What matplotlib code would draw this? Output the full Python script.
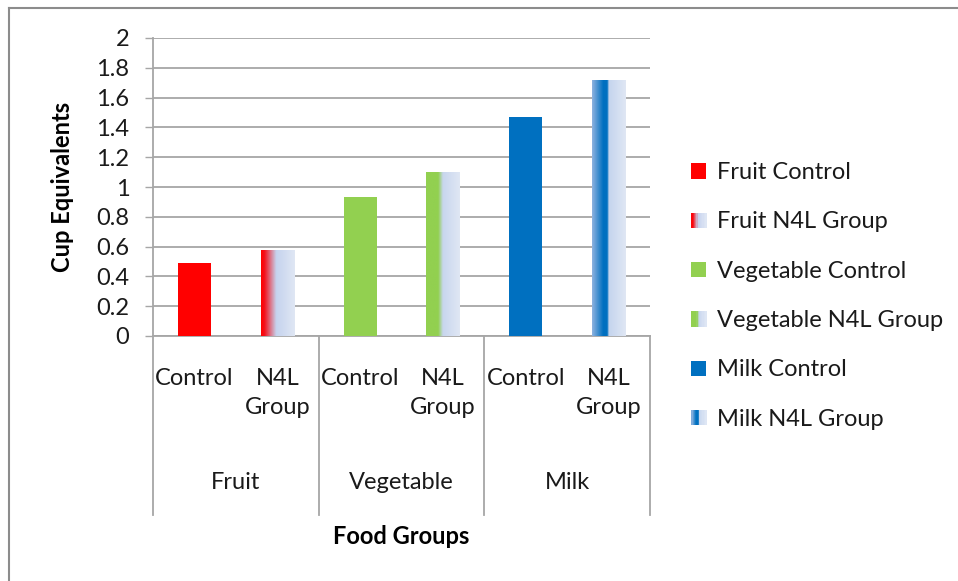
import matplotlib
matplotlib.use("Agg")
import matplotlib.pyplot as plt
import numpy as np
from matplotlib.colors import LinearSegmentedColormap
from matplotlib.patches import Rectangle
from matplotlib.legend_handler import HandlerBase
from matplotlib.lines import Line2D

plt.rcParams['font.family'] = ['Lato', 'DejaVu Sans']

groups = ['Fruit', 'Vegetable', 'Milk']
sub_labels = ['Control', 'N4L\nGroup']
control_vals = [0.49, 0.935, 1.47]
n4l_vals = [0.58, 1.1, 1.72]
series_names = ['Fruit Control', 'Fruit N4L Group', 'Vegetable Control',
                'Vegetable N4L Group', 'Milk Control', 'Milk N4L Group']
base_colors = ['#ff0000', '#92d050', '#0070c0']
# gradient stops for the N4L bars (position, colour)
grad_stops = [
    [(0.0, '#ff0000'), (0.1, '#f40f1a'), (0.45, '#c5d3ee'), (1.0, '#e0e7f4')],
    [(0.0, '#92d050'), (0.36, '#92d050'), (0.5, '#c8d6ee'), (1.0, '#e0e7f4')],
    [(0.0, '#8fb3e0'), (0.33, '#0070c0'), (0.45, '#0070c0'), (0.5, '#c5d5ee'), (1.0, '#e0e7f4')],
]
grad_cmaps = [LinearSegmentedColormap.from_list('g%d' % i, s) for i, s in enumerate(grad_stops)]
grad_row = np.linspace(0, 1, 256).reshape(1, -1)

fs = 17

fig = plt.figure(figsize=(9.58, 5.81), dpi=100)
ax = fig.add_axes([153 / 958, 1 - 336 / 581, 497 / 958, 298 / 581])

width = 0.4
x_ctrl = np.arange(len(groups)) * 2
x_n4l = x_ctrl + 1

ax.bar(x_ctrl, control_vals, width=width, color=base_colors, zorder=3)
n4l_bars = ax.bar(x_n4l, n4l_vals, width=width, color='none', zorder=3)
for bar, cmap in zip(n4l_bars, grad_cmaps):
    x0, w, h = bar.get_x(), bar.get_width(), bar.get_height()
    im = ax.imshow(grad_row, cmap=cmap, aspect='auto', extent=[x0, x0 + w, 0, h],
                   zorder=3, interpolation='bilinear')
    im.set_clip_path(bar)

ax.set_xlim(-0.5, 5.5)
ax.set_ylim(0, 2)
ax.set_yticks(np.arange(0, 2.01, 0.2))
ax.set_yticklabels(['0', '0.2', '0.4', '0.6', '0.8', '1', '1.2', '1.4', '1.6', '1.8', '2'])
ax.yaxis.grid(True, color='#a6a6a6', linewidth=1.3, zorder=0)
ax.set_axisbelow(True)
ax.tick_params(axis='y', length=6, width=1, color='#a6a6a6', pad=11, labelsize=fs,
               labelcolor='#1a1a1a')

ax.set_xticks(np.arange(6))
ax.set_xticklabels(sub_labels * 3, fontsize=fs, va='top', linespacing=1.5, color='#1a1a1a')
ax.tick_params(axis='x', length=0, pad=23)

for s in ['top', 'right']:
    ax.spines[s].set_visible(False)
ax.spines['left'].set_color('#a6a6a6')
ax.spines['bottom'].set_color('#a6a6a6')
ax.spines['left'].set_linewidth(1.3)
ax.spines['bottom'].set_linewidth(1.3)

trans = ax.get_xaxis_transform()
for xs in [-0.5, 1.5, 3.5, 5.5]:
    ax.plot([xs, xs], [0, -0.6], transform=trans, color='#a6a6a6', linewidth=1.3,
            clip_on=False)
for xc, g in zip((x_ctrl + x_n4l) / 2, groups):
    ax.text(xc, -0.493, g, transform=trans, ha='center', va='center', fontsize=fs,
            color='#1a1a1a')

ax.text(0.5, -0.674, 'Food Groups', transform=ax.transAxes, ha='center', va='center',
        fontsize=fs, fontweight='bold')
ax.text(-0.183, 0.5, 'Cup Equivalents', transform=ax.transAxes, ha='center', va='center',
        rotation=90, fontsize=fs, fontweight='bold')


class GradientHandler(HandlerBase):
    def __init__(self, cmap):
        super().__init__()
        self.cmap = cmap

    def create_artists(self, legend, orig_handle, xdescent, ydescent, width, height,
                       fontsize, trans):
        n = 12
        arts = []
        for i in range(n):
            r = Rectangle((-xdescent + width * i / n, -ydescent), width / n + 0.3, height,
                          facecolor=self.cmap((i + 0.5) / n), edgecolor='none',
                          transform=trans)
            arts.append(r)
        return arts


handles = []
handler_map = {}
for c, cmap in zip(base_colors, grad_cmaps):
    h1 = Rectangle((0, 0), 1, 1, facecolor=c, edgecolor='none')
    h2 = Line2D([], [])
    handler_map[h2] = GradientHandler(cmap)
    handles += [h1, h2]

leg = fig.legend(handles, series_names, handler_map=handler_map, loc='center left',
                 bbox_to_anchor=(682 / 958, 1 - 296 / 581), frameon=False, fontsize=fs,
                 handlelength=0.62, handleheight=0.62, handletextpad=0.45,
                 labelspacing=1.2, borderaxespad=0)
for t in leg.get_texts():
    t.set_color('#1a1a1a')

# outer chart border (top and left edges visible)
fig.add_artist(Line2D([9 / 958, 1.0], [1 - 8 / 581, 1 - 8 / 581], color='#8c8c8c',
                      linewidth=1.5, transform=fig.transFigure))
fig.add_artist(Line2D([9 / 958, 9 / 958], [0, 1 - 8 / 581], color='#8c8c8c',
                      linewidth=1.5, transform=fig.transFigure))

fig.savefig('out.png', dpi=100)
